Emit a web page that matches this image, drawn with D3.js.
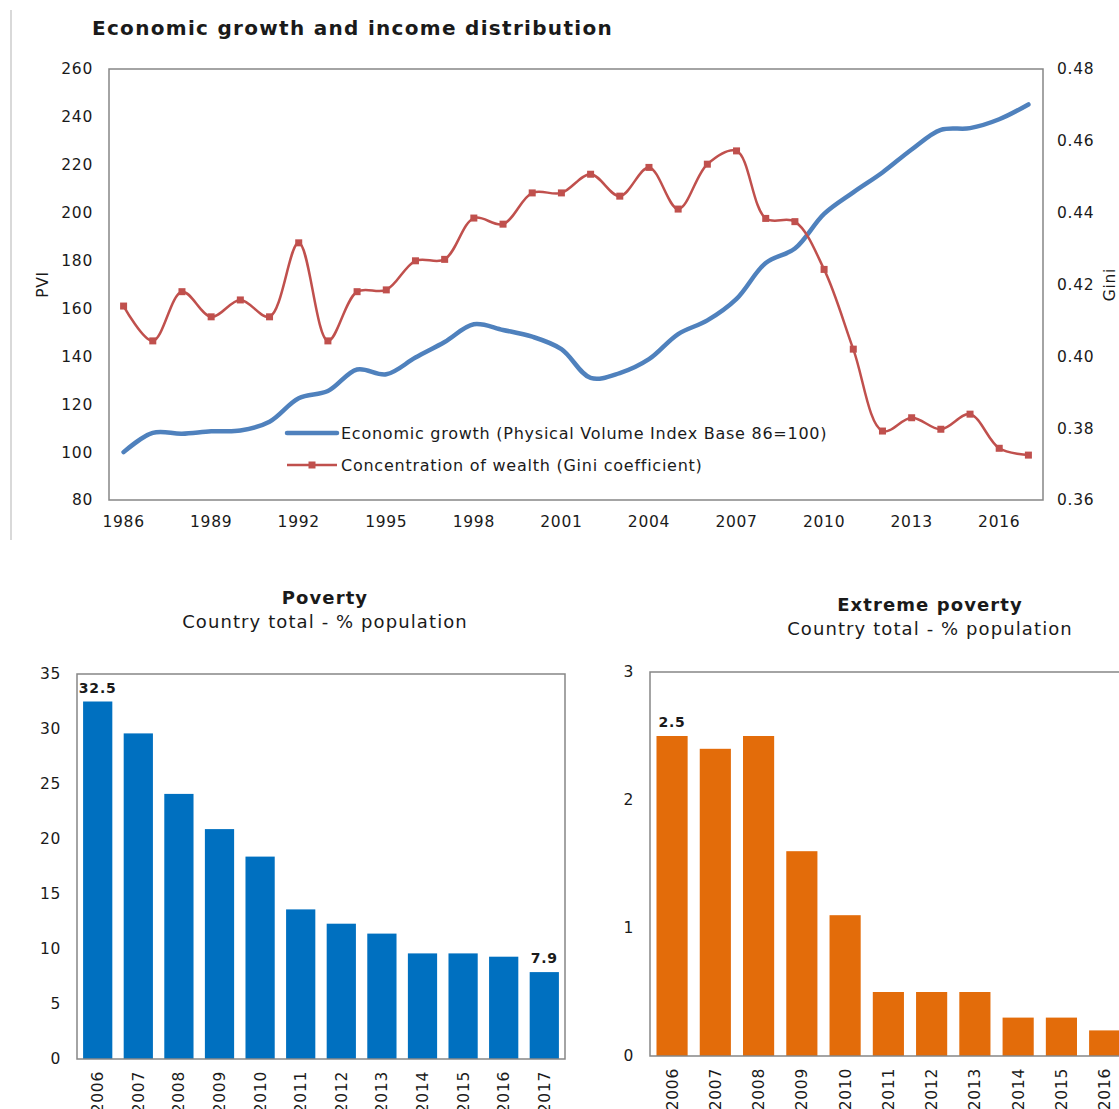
<!DOCTYPE html>
<meta charset="utf-8">
<html>
  <head>
    <style>
      body { margin: 0; background: #fff; }
      svg text { font-family: "DejaVu Sans", Verdana, sans-serif; fill: #1a1a1a; }
      .frame { fill: none; stroke: #868686; stroke-width: 1.5px; }
      .tick-label { font-size: 15.5px; letter-spacing: 0.7px; }
      .legend-label { font-size: 16px; letter-spacing: 0.75px; }
      .title { font-size: 20px; font-weight: bold; letter-spacing: 1.3px; }
      .sub { font-size: 18px; letter-spacing: 1.1px; }
    </style>
    <script src="https://d3js.org/d3.v7.min.js"></script>
  </head>
  <body>
<div id="my_dataviz"></div>

<script type="text/javascript">
// top chart data
var years = d3.range(1986, 2018).map(String);
var pviValues = [100, 108, 107.7, 108.7, 109, 112.7, 122.5, 125.5, 134.5, 132.5, 139.5, 146, 153.4, 151, 148.2, 143,
  131, 133, 138.8, 149.3, 155, 164, 179, 185, 199.5, 208.5, 216.8, 226.4, 234.6, 235.3, 239, 245.2];
var giniValues = [0.414, 0.4043, 0.418, 0.411, 0.4157, 0.411, 0.4316, 0.4043, 0.418, 0.4185, 0.4266, 0.427, 0.4385, 0.4368, 0.4455, 0.4455,
  0.4507, 0.4446, 0.4526, 0.441, 0.4535, 0.4572, 0.4384, 0.4375, 0.4242, 0.402, 0.3792, 0.3829, 0.3797, 0.3839, 0.3744, 0.3725];
var yearTicks = ["1986", "1989", "1992", "1995", "1998", "2001", "2004", "2007", "2010", "2013", "2016"];
var pviTicks = [80, 100, 120, 140, 160, 180, 200, 220, 240, 260];
var giniTicks = [0.36, 0.38, 0.40, 0.42, 0.44, 0.46, 0.48];

// bottom charts data
var barYears = ["2006", "2007", "2008", "2009", "2010", "2011", "2012", "2013", "2014", "2015", "2016", "2017"];
var povertyValues = [32.5, 29.6, 24.1, 20.9, 18.4, 13.6, 12.3, 11.4, 9.6, 9.6, 9.3, 7.9];
var extremeYears = ["2006", "2007", "2008", "2009", "2010", "2011", "2012", "2013", "2014", "2015", "2016"];
var extremeValues = [2.5, 2.4, 2.5, 1.6, 1.1, 0.5, 0.5, 0.5, 0.3, 0.3, 0.2];
var povertyTicks = [0, 5, 10, 15, 20, 25, 30, 35];
var extremeTicks = [0, 1, 2, 3];

var svg = d3.select("#my_dataviz")
  .append("svg")
  .attr("width", 1119)
  .attr("height", 1109);

// page frame line on the left
svg.append("line")
  .attr("x1", 11).attr("x2", 11).attr("y1", 10).attr("y2", 540)
  .style("stroke", "#d9d9d9").style("stroke-width", 2);

// ---------- top chart ----------
var plot = {left: 109, right: 1043, top: 69, bottom: 500};

svg.append("text")
  .attr("class", "title")
  .attr("x", 92).attr("y", 35)
  .text("Economic growth and income distribution");

var x = d3.scaleBand()
  .domain(years)
  .range([plot.left, plot.right]);

var yL = d3.scaleLinear().domain([80, 260]).range([plot.bottom, plot.top]);
var yR = d3.scaleLinear().domain([0.36, 0.48]).range([plot.bottom, plot.top]);

svg.append("rect")
  .attr("class", "frame")
  .attr("x", plot.left).attr("y", plot.top)
  .attr("width", plot.right - plot.left).attr("height", plot.bottom - plot.top);

// axes (labels only; frame drawn above)
var axL = svg.append("g")
  .attr("transform", "translate(" + plot.left + ",0)")
  .call(d3.axisLeft(yL).tickValues(pviTicks).tickSize(0).tickPadding(16));
var axR = svg.append("g")
  .attr("transform", "translate(" + plot.right + ",0)")
  .call(d3.axisRight(yR).tickValues(giniTicks).tickSize(0).tickPadding(14).tickFormat(d3.format(".2f")));
var axB = svg.append("g")
  .attr("transform", "translate(0," + plot.bottom + ")")
  .call(d3.axisBottom(x).tickValues(yearTicks).tickSize(0).tickPadding(16));
[axL, axR, axB].forEach(function(a) {
  a.select(".domain").remove();
  a.selectAll("text").attr("class", "tick-label").attr("fill", "#1a1a1a");
  a.attr("font-family", null).attr("font-size", null);
});

svg.append("text")
  .attr("class", "tick-label")
  .attr("transform", "translate(48," + ((plot.top + plot.bottom) / 2) + ") rotate(-90)")
  .style("text-anchor", "middle")
  .text("PVI");
svg.append("text")
  .attr("class", "tick-label")
  .attr("transform", "translate(1115," + ((plot.top + plot.bottom) / 2) + ") rotate(-90)")
  .style("text-anchor", "middle")
  .text("Gini");

var cx = function(i) { return x(years[i]) + x.bandwidth() / 2; };

var pviLine = d3.line()
  .x(function(d, i) { return cx(i); })
  .y(function(d) { return yL(d); })
  .curve(d3.curveCatmullRom.alpha(0.5));
var giniLine = d3.line()
  .x(function(d, i) { return cx(i); })
  .y(function(d) { return yR(d); })
  .curve(d3.curveCatmullRom.alpha(0.5));

svg.append("path")
  .datum(pviValues)
  .attr("d", pviLine)
  .style("fill", "none").style("stroke", "#4F81BD").style("stroke-width", 4.5)
  .style("stroke-linecap", "round");

svg.append("path")
  .datum(giniValues)
  .attr("d", giniLine)
  .style("fill", "none").style("stroke", "#C0504D").style("stroke-width", 2.5);

svg.selectAll(".gini-pt")
  .data(giniValues)
  .enter()
  .append("rect")
  .attr("class", "gini-pt")
  .attr("x", function(d, i) { return cx(i) - 3.5; })
  .attr("y", function(d) { return yR(d) - 3.5; })
  .attr("width", 7).attr("height", 7)
  .style("fill", "#C0504D");

// legend
var legend = svg.append("g").attr("transform", "translate(287,433)");
legend.append("line").attr("x1", 0).attr("x2", 50).attr("y1", 0).attr("y2", 0)
  .style("stroke", "#4F81BD").style("stroke-width", 4.5).style("stroke-linecap", "round");
legend.append("text").attr("class", "legend-label").attr("x", 54).attr("y", 0).attr("dy", "0.35em")
  .text("Economic growth (Physical Volume Index Base 86=100)");
legend.append("line").attr("x1", 0).attr("x2", 50).attr("y1", 32).attr("y2", 32)
  .style("stroke", "#C0504D").style("stroke-width", 2.5);
legend.append("rect").attr("x", 21.5).attr("y", 28.5).attr("width", 7).attr("height", 7)
  .style("fill", "#C0504D");
legend.append("text").attr("class", "legend-label").attr("x", 54).attr("y", 32).attr("dy", "0.35em")
  .text("Concentration of wealth (Gini coefficient)");

// ---------- bar charts ----------
function barChart(opt) {
  var g = svg.append("g");
  g.append("text").attr("class", "sub").style("font-weight", "bold")
    .attr("x", opt.titleX).attr("y", opt.titleY).style("text-anchor", "middle").text(opt.title);
  g.append("text").attr("class", "sub")
    .attr("x", opt.titleX).attr("y", opt.titleY + 24).style("text-anchor", "middle").text("Country total - % population");

  var bx = d3.scaleBand()
    .domain(barYears)
    .range([opt.left, opt.right])
    .paddingInner(0.28)
    .paddingOuter(0.15);
  var by = d3.scaleLinear().domain([0, opt.max]).range([opt.bottom, opt.top]);

  g.selectAll(".bar")
    .data(opt.values)
    .enter()
    .append("rect")
    .attr("class", "bar")
    .attr("x", function(d, i) { return bx(opt.years[i]); })
    .attr("y", function(d) { return by(d); })
    .attr("width", bx.bandwidth())
    .attr("height", function(d) { return by(0) - by(d); })
    .style("fill", opt.color);

  g.append("rect").attr("class", "frame")
    .attr("x", opt.left).attr("y", opt.top)
    .attr("width", opt.right - opt.left).attr("height", opt.bottom - opt.top);

  var ay = g.append("g")
    .attr("transform", "translate(" + opt.left + ",0)")
    .call(d3.axisLeft(by).tickValues(opt.ticks).tickSize(0).tickPadding(16).tickFormat(d3.format("d")));
  var ax = g.append("g")
    .attr("transform", "translate(0," + opt.bottom + ")")
    .call(d3.axisBottom(bx).tickSize(0));
  ax.selectAll("text")
    .attr("y", 0).attr("x", -12).attr("dy", "0.35em")
    .attr("transform", "rotate(-90)")
    .style("text-anchor", "end");
  [ay, ax].forEach(function(a) {
    a.select(".domain").remove();
    a.selectAll("text").attr("class", "tick-label").attr("fill", "#1a1a1a");
    a.attr("font-family", null).attr("font-size", null);
  });

  opt.labels.forEach(function(i) {
    g.append("text")
      .attr("x", bx(opt.years[i]) + bx.bandwidth() / 2)
      .attr("y", by(opt.values[i]) - 9)
      .style("text-anchor", "middle")
      .style("font-size", "14px").style("font-weight", "bold").style("letter-spacing", "0.8px")
      .text(opt.values[i].toFixed(1));
  });
}

barChart({
  title: "Poverty", titleX: 325, titleY: 604,
  left: 77, right: 565, top: 674, bottom: 1059,
  max: 35, ticks: povertyTicks, years: barYears, values: povertyValues,
  color: "#0070C0", labels: [0, 11]
});

barChart({
  title: "Extreme poverty", titleX: 930, titleY: 611,
  left: 650, right: 1170, top: 672, bottom: 1056,
  max: 3, ticks: extremeTicks, years: extremeYears, values: extremeValues,
  color: "#E36C0A", labels: [0]
});
</script>
</body>
</html>
